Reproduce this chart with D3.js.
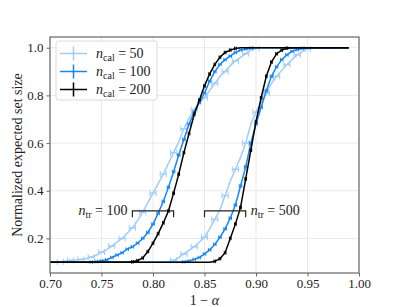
<!DOCTYPE html>
<html lang="en">
<head>
    <meta charset="UTF-8">
    <title>Normalized expected set size</title>
    <script src="https://d3js.org/d3.v7.min.js"></script>
    <style>
        body { margin: 0; background: white; }
        svg { display: block; }
        text { font-family: "Liberation Serif", "DejaVu Serif", serif; fill: #222; }
        .grid line { stroke: #e3e3e3; stroke-width: 0.8; }
        .axis path, .axis line { stroke: #666; }
        .axis text { font-size: 13px; }
    </style>
</head>
<body>
    <div id="chart"></div>

    <script>
        // target coverage 1 - alpha
        const coverage = [0.700, 0.705, 0.710, 0.715, 0.720, 0.725, 0.730, 0.735, 0.740, 0.745,
            0.750, 0.755, 0.760, 0.765, 0.770, 0.775, 0.780, 0.785, 0.790, 0.795,
            0.800, 0.805, 0.810, 0.815, 0.820, 0.825, 0.830, 0.835, 0.840, 0.845,
            0.850, 0.855, 0.860, 0.865, 0.870, 0.875, 0.880, 0.885, 0.890, 0.895,
            0.900, 0.905, 0.910, 0.915, 0.920, 0.925, 0.930, 0.935, 0.940, 0.945,
            0.950, 0.955, 0.960, 0.965, 0.970, 0.975, 0.980, 0.985, 0.990];

        const nCal = [50, 100, 200];
        const nTr = [100, 500];
        const xErr = [0.003, 0.0012, 0.0008];   // half width of the coverage error bars per n_cal

        // n_tr = 100
        const size100cal50 = [0.100, 0.100, 0.102, 0.105, 0.108, 0.110, 0.112, 0.115, 0.122, 0.130,
            0.142, 0.153, 0.168, 0.185, 0.200, 0.222, 0.245, 0.275, 0.310, 0.350,
            0.390, 0.430, 0.470, 0.515, 0.560, 0.605, 0.660, 0.705, 0.740, 0.770,
            0.790, 0.820, 0.850, 0.880, 0.900, 0.925, 0.945, 0.960, 0.975, 0.990,
            0.997, 1, 1, 1, 1, 1, 1, 1, 1, 1,
            1, 1, 1, 1, 1, 1, 1, 1, 1];
        const size100cal100 = [0.100, 0.100, 0.100, 0.100, 0.100, 0.100, 0.100, 0.100, 0.101, 0.103,
            0.106, 0.110, 0.120, 0.130, 0.140, 0.155, 0.165, 0.180, 0.200, 0.225,
            0.260, 0.305, 0.355, 0.415, 0.480, 0.550, 0.615, 0.680, 0.730, 0.770,
            0.810, 0.860, 0.900, 0.930, 0.950, 0.965, 0.980, 0.990, 0.995, 0.998,
            1, 1, 1, 1, 1, 1, 1, 1, 1, 1,
            1, 1, 1, 1, 1, 1, 1, 1, 1];
        const size100cal200 = [0.100, 0.100, 0.100, 0.100, 0.100, 0.100, 0.100, 0.100, 0.100, 0.100,
            0.100, 0.100, 0.100, 0.100, 0.100, 0.100, 0.102, 0.107, 0.118, 0.145,
            0.180, 0.220, 0.265, 0.315, 0.390, 0.470, 0.560, 0.640, 0.720, 0.780,
            0.840, 0.890, 0.930, 0.960, 0.980, 0.990, 0.997, 1, 1, 1,
            1, 1, 1, 1, 1, 1, 1, 1, 1, 1,
            1, 1, 1, 1, 1, 1, 1, 1, 1];

        // n_tr = 500
        const size500cal50 = [0.100, 0.100, 0.100, 0.100, 0.100, 0.100, 0.100, 0.100, 0.100, 0.100,
            0.100, 0.100, 0.100, 0.100, 0.100, 0.100, 0.100, 0.100, 0.100, 0.100,
            0.100, 0.100, 0.100, 0.102, 0.108, 0.120, 0.135, 0.150, 0.165, 0.185,
            0.205, 0.240, 0.280, 0.320, 0.380, 0.440, 0.490, 0.540, 0.600, 0.680,
            0.730, 0.770, 0.810, 0.850, 0.880, 0.905, 0.930, 0.950, 0.970, 0.985,
            0.995, 0.999, 1, 1, 1, 1, 1, 1, 1];
        const size500cal100 = [0.100, 0.100, 0.100, 0.100, 0.100, 0.100, 0.100, 0.100, 0.100, 0.100,
            0.100, 0.100, 0.100, 0.100, 0.100, 0.100, 0.100, 0.100, 0.100, 0.100,
            0.100, 0.100, 0.100, 0.100, 0.100, 0.100, 0.102, 0.105, 0.112, 0.120,
            0.135, 0.152, 0.175, 0.205, 0.240, 0.285, 0.340, 0.420, 0.500, 0.600,
            0.680, 0.750, 0.820, 0.880, 0.920, 0.950, 0.970, 0.985, 0.992, 0.997,
            1, 1, 1, 1, 1, 1, 1, 1, 1];
        const size500cal200 = [0.100, 0.100, 0.100, 0.100, 0.100, 0.100, 0.100, 0.100, 0.100, 0.100,
            0.100, 0.100, 0.100, 0.100, 0.100, 0.100, 0.100, 0.100, 0.100, 0.100,
            0.100, 0.100, 0.100, 0.100, 0.100, 0.100, 0.100, 0.100, 0.100, 0.100,
            0.100, 0.100, 0.104, 0.115, 0.140, 0.200, 0.260, 0.330, 0.450, 0.570,
            0.690, 0.790, 0.880, 0.940, 0.975, 0.990, 0.998, 1, 1, 1,
            1, 1, 1, 1, 1, 1, 1, 1, 1];

        const xTicks = [0.70, 0.75, 0.80, 0.85, 0.90, 0.95, 1.00];
        const yTicks = [0.2, 0.4, 0.6, 0.8, 1.0];

        const colors = ["#9fcdfb", "#1787f5", "#000000"];

        const width = 399;
        const height = 307;
        const margin = {top: 37, right: 40, bottom: 34, left: 50};
        const innerW = width - margin.left - margin.right;
        const innerH = height - margin.top - margin.bottom;

        const svg = d3.select("#chart")
            .append("svg")
            .attr("width", width)
            .attr("height", height);

        const x = d3.scaleLinear().domain([0.70, 1.00]).range([0, innerW]);
        const y = d3.scaleLinear().domain([0.055, 1.045]).range([innerH, 0]);

        const g = svg.append("g")
            .attr("transform", `translate(${margin.left},${margin.top})`);

        svg.append("defs").append("clipPath")
            .attr("id", "clip")
            .append("rect")
            .attr("width", innerW)
            .attr("height", innerH);

        // grid
        g.append("g").attr("class", "grid")
            .selectAll("line.gx").data(xTicks).enter().append("line")
            .attr("x1", d => x(d)).attr("x2", d => x(d))
            .attr("y1", 0).attr("y2", innerH);
        g.append("g").attr("class", "grid")
            .selectAll("line.gy").data(yTicks).enter().append("line")
            .attr("x1", 0).attr("x2", innerW)
            .attr("y1", d => y(d)).attr("y2", d => y(d));

        const series = [
            {tr: 0, cal: 0, size: size100cal50},
            {tr: 1, cal: 0, size: size500cal50},
            {tr: 0, cal: 1, size: size100cal100},
            {tr: 1, cal: 1, size: size500cal100},
            {tr: 0, cal: 2, size: size100cal200},
            {tr: 1, cal: 2, size: size500cal200}
        ];

        const line = d3.line()
            .x(d => x(d[0]))
            .y(d => y(d[1]));

        const plot = g.append("g").attr("clip-path", "url(#clip)");

        series.forEach(s => {
            const pts = coverage.map((c, i) => [c, s.size[i]]);
            const col = colors[s.cal];
            const err = xErr[s.cal];
            const every = s.cal === 0 ? 2 : 1;
            const capH = s.cal === 0 ? 3 : 1.8;
            const sg = plot.append("g");

            sg.append("path")
                .datum(pts)
                .attr("fill", "none")
                .attr("stroke", col)
                .attr("stroke-width", 1.5)
                .attr("d", line);

            const eb = pts.filter((d, i) => i % every === 0 && d[1] > 0.1 && d[1] < 1);
            sg.selectAll("line.bar").data(eb).enter().append("line")
                .attr("x1", d => x(d[0] - err)).attr("x2", d => x(d[0] + err))
                .attr("y1", d => y(d[1])).attr("y2", d => y(d[1]))
                .attr("stroke", col).attr("stroke-width", 1.5);
            [-1, 1].forEach(sign => {
                sg.selectAll("line.cap" + sign).data(eb).enter().append("line")
                    .attr("x1", d => x(d[0] + sign * err)).attr("x2", d => x(d[0] + sign * err))
                    .attr("y1", d => y(d[1]) - capH).attr("y2", d => y(d[1]) + capH)
                    .attr("stroke", col).attr("stroke-width", 1);
            });
        });

        // n_tr brackets
        const bracketRanges = [[0.78, 0.82], [0.85, 0.89]];
        const bracketY = 0.316;
        bracketRanges.forEach((r, i) => {
            const bx0 = x(r[0]), bx1 = x(r[1]), by = y(bracketY);
            g.append("path")
                .attr("d", `M${bx0},${by + 6.5}V${by}H${bx1}V${by + 6.5}`)
                .attr("fill", "none")
                .attr("stroke", "#222")
                .attr("stroke-width", 1.2);
            const t = g.append("text")
                .attr("x", i === 0 ? bx0 - 5 : bx1 + 5)
                .attr("y", by + 4.5)
                .attr("text-anchor", i === 0 ? "end" : "start")
                .style("font-size", "14px");
            t.append("tspan").style("font-style", "italic").text("n");
            t.append("tspan").attr("dy", 3).style("font-size", "10px").text("tr");
            t.append("tspan").attr("dy", -3).text(" = " + nTr[i]);
        });

        // axes
        const xAxis = g.append("g").attr("class", "axis")
            .attr("transform", `translate(0,${innerH})`)
            .call(d3.axisBottom(x).tickValues(xTicks).tickFormat(d3.format(".2f")).tickSize(3.5).tickPadding(2.5));
        const yAxis = g.append("g").attr("class", "axis")
            .call(d3.axisLeft(y).tickValues(yTicks).tickFormat(d3.format(".1f")).tickSize(3.5).tickPadding(3));
        xAxis.select(".domain").remove();
        yAxis.select(".domain").remove();

        g.append("rect")
            .attr("width", innerW)
            .attr("height", innerH)
            .attr("fill", "none")
            .attr("stroke", "#666")
            .attr("stroke-width", 1.2);

        // axis labels
        const xl = svg.append("text")
            .attr("x", margin.left + innerW / 2)
            .attr("y", 304.5)
            .attr("text-anchor", "middle")
            .style("font-size", "14px");
        xl.append("tspan").text("1 \u2212 ");
        xl.append("tspan").style("font-style", "italic").text("\u03b1");

        svg.append("text")
            .attr("transform", `translate(22,${margin.top + innerH / 2}) rotate(-90)`)
            .attr("text-anchor", "middle")
            .style("font-size", "14px")
            .text("Normalized expected set size");

        // legend
        const legend = g.append("g").attr("transform", "translate(6,4)");
        legend.append("rect")
            .attr("width", 101)
            .attr("height", 59)
            .attr("rx", 2.5)
            .attr("fill", "white")
            .attr("fill-opacity", 0.85)
            .attr("stroke", "#d0d0d0")
            .attr("stroke-width", 0.8);

        nCal.forEach((n, i) => {
            const ly = 12.5 + i * 18;
            const row = legend.append("g").attr("transform", `translate(0,${ly})`);
            row.append("line")
                .attr("x1", 4).attr("x2", 31).attr("y1", 0).attr("y2", 0)
                .attr("stroke", colors[i]).attr("stroke-width", 1.5);
            row.append("line")
                .attr("x1", 17.5).attr("x2", 17.5).attr("y1", -7).attr("y2", 7)
                .attr("stroke", colors[i]).attr("stroke-width", 1.5);
            const t = row.append("text")
                .attr("x", 40)
                .attr("y", 4.5)
                .style("font-size", "14px");
            t.append("tspan").style("font-style", "italic").text("n");
            t.append("tspan").attr("dy", 3).style("font-size", "10px").text("cal");
            t.append("tspan").attr("dy", -3).text(" = " + n);
        });
    </script>
</body>
</html>
